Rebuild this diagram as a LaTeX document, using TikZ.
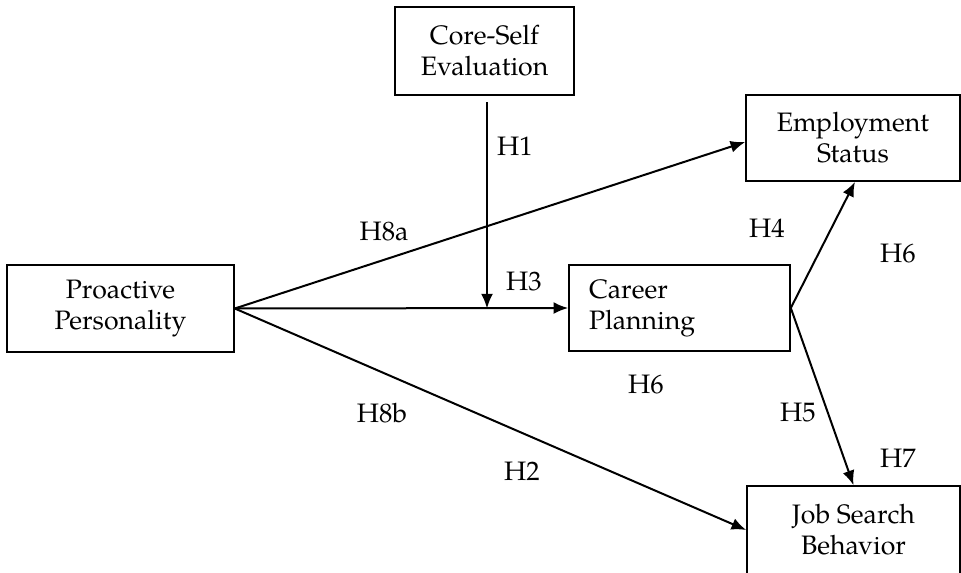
\documentclass[tikz,border=0pt]{standalone}
\usepackage{fontspec}
\setmainfont{TeX Gyre Pagella}
\usetikzlibrary{arrows.meta,calc}
\tikzset{
  box/.style={draw, line width=1.2pt, align=center, inner sep=0pt, font=\fontsize{20}{23.25}\selectfont},
  lab/.style={inner sep=0pt, font=\fontsize{20}{23.25}\selectfont},
  arr/.style={line width=1.5pt, -{Latex[length=11pt,width=9pt]}},
  ln/.style={line width=1.5pt}
}
\begin{document}
\begin{tikzpicture}[x=0.75pt,y=-0.75pt]
\useasboundingbox (0,0) rectangle (961,572);
\clip (0,0) rectangle (961,572);
\node[box, minimum width=134.25pt, minimum height=66pt] (cse) at (484.5,51) {Core-Self\\Evaluation};
\node[box, minimum width=170.25pt, minimum height=65.25pt] (pp) at (120.5,308.5) {Proactive\\Personality};
\node[box, minimum width=160.5pt, minimum height=64.5pt] (es) at (853,138) {Employment\\Status};
\node[box, minimum width=165.75pt, minimum height=64.5pt, align=left, text width=135.75pt, inner xsep=15pt] (cp) at (679.5,308) {Career\\Planning};
\node[box, minimum width=159.75pt, minimum height=66pt] (jsb) at (853.5,530) {Job Search\\Behavior};
\coordinate (m) at (487,308.5);
\coordinate (s) at (487,102);
\draw[arr] (pp.east) -- (cp.west);
\draw[arr] (s) -- (m);
\draw[arr] (pp.east) -- ([yshift=-3pt]es.west);
\draw[arr] (pp.east) -- (jsb.west);
\draw[arr] (cp.east) -- ([xshift=1.5pt]es.south);
\draw[arr] (cp.east) -- (jsb.north);
\node[lab] (h1) at (515,146) {H1};
\node[lab] (h8a) at (384,232) {H8a};
\node[lab] (h3) at (524,282) {H3};
\node[lab] (h4) at (767,228) {H4};
\node[lab] (h6a) at (898,254) {H6};
\node[lab] (h6b) at (646,385) {H6};
\node[lab] (h8b) at (382,413) {H8b};
\node[lab] (h5) at (798,413) {H5};
\node[lab] (h7) at (898,458) {H7};
\node[lab] (h2) at (522,471) {H2};
\end{tikzpicture}
\end{document}
